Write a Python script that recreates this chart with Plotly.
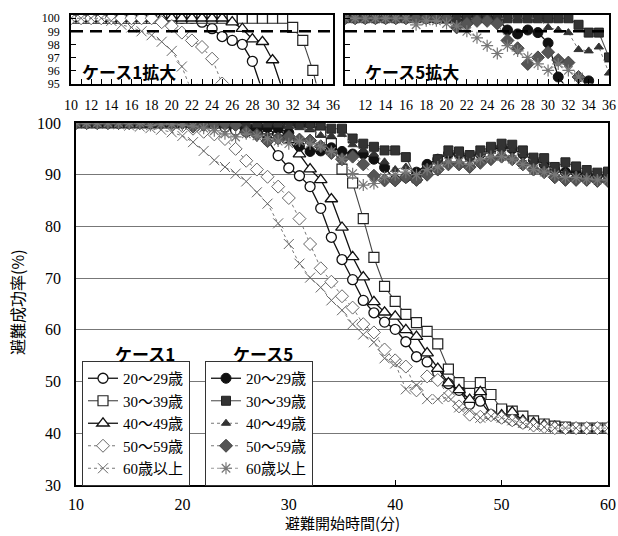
import plotly.graph_objects as go

W, H = 618, 536

minutes = list(range(10, 61))

# Case 1 (open markers)
c1_20 = [100, 100, 100, 100, 100, 100, 100, 100, 100, 100, 100, 100, 100,
         99.7, 99.2, 98.6, 98.3, 98.0, 96.7, 93.7, 91.3, 89.8, 87.7, 83.5, 77.9,
         73.6, 69.7, 65.7, 63.3, 61.5, 60.1, 57.7, 54.8, 53.8, 51.7, 49.6, 48.3,
         45.6, 46.2, 43.6, 43.0, 42.5, 42.0, 41.8, 41.5, 41.2, 41.0, 41.0, 41.0,
         41.0, 41.0]
c1_30 = [100, 100, 100, 100, 100, 100, 100, 100, 100, 100, 100, 100, 100,
         100, 100, 100, 100, 100, 100, 100, 100, 100,
         99.3, 98.3, 96.0, 91.1, 88.4, 81.5, 74.0, 68.4, 65.5, 63.0, 61.4, 59.7,
         57.3, 52.4, 49.8, 47.7, 49.8, 47.5, 44.7, 44.3, 43.3, 42.4, 41.8, 41.4,
         41.2, 41.0, 41.0, 41.0, 41.0]
c1_40 = [100, 100, 100, 100, 100, 100, 100, 100, 100, 100, 100, 100, 100,
         100, 100, 100,
         99.7, 99.2, 98.4, 98.2, 96.8, 94.0, 91.1, 89.0, 85.3, 79.8, 74.1, 70.2,
         65.4, 63.4, 62.6, 60.0, 58.7, 55.5, 52.5, 49.7, 48.4, 46.5, 48.0, 43.5,
         43.5, 44.1, 42.5, 42.0, 41.6, 41.3, 41.0, 41.0, 41.0, 41.0, 41.0]
c1_50 = [100, 100, 100, 100, 100, 100, 100, 100, 100,
         99.7, 99.4, 98.9, 98.3, 97.8, 96.9, 95.0, 92.7, 91.0, 89.6, 87.7, 85.5,
         81.5, 76.6, 71.9, 69.3, 66.5, 64.3, 61.1, 59.5, 56.2, 54.1, 52.9, 48.3,
         51.0, 50.3, 47.3, 45.2, 43.6, 43.2, 43.5, 43.0, 42.5, 42.0, 41.5, 41.2,
         41.0, 41.0, 41.0, 41.0, 41.0, 41.0]
c1_60 = [100, 100, 100, 100,
         99.8, 99.5, 99.3, 99.0, 98.7, 98.2, 97.5, 96.3, 94.6, 92.8, 91.5, 90.2,
         88.7, 86.6, 84.4, 80.6, 76.6, 72.8, 70.1, 68.2, 65.7, 63.8, 61.1, 59.1,
         57.6, 54.5, 53.5, 48.5, 49.3, 46.6, 46.6, 47.0, 45.0, 44.4, 43.0, 43.3,
         43.0, 42.5, 42.0, 41.5, 41.2, 41.0, 41.0, 41.0, 41.0, 41.0, 41.0]

# Case 5 (filled markers)
c5_20 = [100, 100, 100, 100, 100, 100, 100, 100, 100, 100, 100, 100, 100,
         100, 100, 100,
         99.1, 98.8, 99.1, 98.9, 98.1, 95.5, 94.5, 94.6, 95.2, 94.5, 94.0, 94.0,
         93.0, 91.4, 89.0, 89.5, 90.5, 92.0, 93.0, 94.0, 94.0, 93.5, 94.0, 94.8,
         95.3, 95.0, 94.0, 92.8, 92.0, 91.0, 90.5, 90.5, 90.0, 89.8, 89.8]
c5_30 = [100, 100, 100, 100, 100, 100, 100, 100, 100, 100, 100, 100, 100,
         100, 100, 100, 100, 100, 100, 100, 100, 100, 100,
         99.5, 98.9, 98.9, 97.0, 96.0, 95.4, 94.7, 94.7, 93.4, 89.3, 91.0, 93.0,
         94.7, 94.5, 93.8, 94.7, 95.4, 96.0, 95.8, 94.7, 93.3, 93.2, 91.5, 92.4,
         91.6, 90.9, 90.4, 90.6]
c5_40 = [100, 100, 100, 100, 100, 100, 100, 100, 100, 100, 100, 100, 100,
         100, 100, 100, 100, 100, 100, 100,
         99.3, 99.1, 98.9, 97.6, 97.5, 97.8, 95.8, 94.8, 94.0, 92.5, 91.0, 91.5,
         90.0, 91.5, 92.5, 94.0, 93.8, 93.0, 94.0, 94.5, 95.0, 94.8, 93.8, 92.5,
         92.0, 90.8, 90.5, 90.0, 89.6, 89.5, 89.3]
c5_50 = [100, 100, 100, 100, 100, 100, 100, 100, 100, 100, 100,
         99.3, 99.6, 99.8, 99.8, 99.6, 98.3, 97.7, 96.5, 97.0, 97.4, 96.8, 96.6,
         95.5, 94.2, 93.0, 93.5, 92.0, 89.8, 88.9, 88.9, 89.5, 89.0, 90.0, 91.0,
         92.0, 92.0, 91.5, 92.3, 93.0, 93.5, 93.0, 92.0, 91.0, 90.5, 89.5, 89.0,
         89.0, 89.0, 88.8, 88.8]
c5_60 = [100, 100, 100, 100, 100, 100, 100,
         99.5, 99.8, 99.8, 99.6, 99.4, 99.0, 98.5, 97.9, 97.3, 97.9, 97.5, 97.0,
         96.5, 96.0, 96.5, 96.0, 95.5, 94.5, 93.0, 90.2, 88.0, 88.3, 89.5, 90.0,
         90.5, 90.0, 91.0, 91.5, 92.5, 92.5, 92.0, 93.0, 93.5, 93.5, 93.0, 92.0,
         91.0, 90.5, 90.0, 89.5, 89.5, 89.2, 89.0, 89.0]

age_labels = ["20～29歳", "30～39歳", "40～49歳", "50～59歳", "60歳以上"]
case_headers = ["ケース1", "ケース5"]
inset_titles = ["ケース1拡大", "ケース5拡大"]
x_title = "避難開始時間(分)"
y_title = "避難成功率(%)"
main_yticks = [30, 40, 50, 60, 70, 80, 90, 100]
main_xticks = [10, 20, 30, 40, 50, 60]
inset_yticks = [95, 96, 97, 98, 99, 100]
inset_left_xticks = list(range(10, 37, 2))
inset_right_xticks = list(range(12, 37, 2))
threshold = 99

SERIF = "Liberation Serif, Noto Sans CJK JP, serif"
GOTH = "Noto Sans CJK JP, sans-serif"

case1 = [c1_20, c1_30, c1_40, c1_50, c1_60]
case5 = [c5_20, c5_30, c5_40, c5_50, c5_60]

style1 = [
    dict(line=dict(color="#111", width=1.3), marker=dict(symbol="circle", size=10, color="white", line=dict(color="#111", width=1.3))),
    dict(line=dict(color="#444", width=1.1), marker=dict(symbol="square", size=10, color="white", line=dict(color="#222", width=1.2))),
    dict(line=dict(color="#111", width=1.3), marker=dict(symbol="triangle-up", size=11, color="white", line=dict(color="#111", width=1.3))),
    dict(line=dict(color="#777", width=1, dash="dot"), marker=dict(symbol="diamond", size=10, color="white", line=dict(color="#666", width=1))),
    dict(line=dict(color="#777", width=1, dash="dot"), marker=dict(symbol="x-thin-open", size=10, color="#666", line=dict(color="#666", width=1))),
]
style5 = [
    dict(line=dict(color="#111", width=1.3), marker=dict(symbol="circle", size=10, color="#111", line=dict(color="#111", width=1))),
    dict(line=dict(color="#555", width=1.1), marker=dict(symbol="square", size=9, color="#333", line=dict(color="#222", width=1))),
    dict(line=dict(color="#777", width=1, dash="dot"), marker=dict(symbol="triangle-up", size=8, color="#333", line=dict(color="#333", width=1))),
    dict(line=dict(color="#777", width=1, dash="dot"), marker=dict(symbol="diamond", size=10, color="#555", line=dict(color="#444", width=1))),
    dict(line=dict(color="#999", width=1, dash="dot"), marker=dict(symbol="asterisk-open", size=10, color="#777", line=dict(color="#777", width=1.2))),
]

fig = go.Figure()

for vals, st, lab in zip(case1, style1, age_labels):
    fig.add_trace(go.Scatter(x=minutes, y=vals, mode="lines+markers", name=lab,
                             legend="legend", xaxis="x", yaxis="y", **st))
for vals, st, lab in zip(case5, style5, age_labels):
    fig.add_trace(go.Scatter(x=minutes, y=vals, mode="lines+markers", name=lab,
                             legend="legend2", xaxis="x", yaxis="y", **st))
for vals, st in zip(case1, style1):
    fig.add_trace(go.Scatter(x=minutes, y=vals, mode="lines+markers", showlegend=False,
                             xaxis="x2", yaxis="y2", **st))
for vals, st in zip(case5, style5):
    fig.add_trace(go.Scatter(x=minutes, y=vals, mode="lines+markers", showlegend=False,
                             xaxis="x3", yaxis="y3", **st))


def px_x(p):
    return p / W


def px_y(p):
    return 1 - p / H


main_dom_x = [px_x(76), px_x(608)]
main_dom_y = [px_y(485), px_y(123)]
in1_dom_x = [px_x(71), px_x(333)]
in2_dom_x = [px_x(345), px_x(609)]
in_dom_y = [px_y(83.5), px_y(15)]

axis_common = dict(showline=True, mirror=True, linecolor="black", linewidth=1.5,
                   ticks="inside", tickcolor="black", zeroline=False, automargin=False)

fig.update_layout(
    width=W, height=H,
    margin=dict(l=0, r=0, t=0, b=0, autoexpand=False),
    paper_bgcolor="white", plot_bgcolor="white",
    font=dict(family=SERIF, color="black"),
    xaxis=dict(domain=main_dom_x, range=[10, 60], tickvals=main_xticks,
               showgrid=False, ticklen=5, tickfont=dict(family=SERIF, size=16),
               ticklabelstandoff=4, anchor="y", **axis_common),
    yaxis=dict(domain=main_dom_y, range=[30, 100], tickvals=main_yticks,
               showgrid=True, gridcolor="#777", gridwidth=1, ticklen=0,
               tickfont=dict(family=SERIF, size=16), ticklabelstandoff=10,
               anchor="x", **axis_common),
    xaxis2=dict(domain=in1_dom_x, range=[10, 36], tickvals=inset_left_xticks,
                showgrid=False, ticklen=5, minor=dict(dtick=1, ticks="inside", ticklen=5, tickcolor="black"),
                tickfont=dict(family=SERIF, size=14), ticklabelstandoff=8,
                anchor="y2", **axis_common),
    yaxis2=dict(domain=in_dom_y, range=[95, 100.25], tickvals=inset_yticks,
                showgrid=False, ticklen=5, tickfont=dict(family=SERIF, size=12),
                ticklabelstandoff=7, anchor="x2", **axis_common),
    xaxis3=dict(domain=in2_dom_x, range=[10, 36], tickvals=inset_right_xticks,
                showgrid=False, ticklen=5, minor=dict(dtick=1, ticks="inside", ticklen=5, tickcolor="black"),
                tickfont=dict(family=SERIF, size=14), ticklabelstandoff=8,
                anchor="y3", **axis_common),
    yaxis3=dict(domain=in_dom_y, range=[95, 100.25], tickvals=inset_yticks,
                showticklabels=False, showgrid=False, ticklen=5,
                anchor="x3", **axis_common),
    legend=dict(x=px_x(82), y=px_y(361), xanchor="left", yanchor="top",
                bgcolor="white", bordercolor="#333", borderwidth=1,
                font=dict(family=SERIF, size=15), itemwidth=30,
                tracegroupgap=0, traceorder="normal"),
    legend2=dict(x=px_x(205), y=px_y(361), xanchor="left", yanchor="top",
                 bgcolor="white", bordercolor="#333", borderwidth=1,
                 font=dict(family=SERIF, size=15), itemwidth=30,
                 tracegroupgap=0, traceorder="normal"),
    showlegend=True,
)

# threshold dashed lines in insets
for xr, yr in [("x2", "y2"), ("x3", "y3")]:
    fig.add_shape(type="line", xref=xr, yref=yr, x0=10, x1=36, y0=threshold, y1=threshold,
                  line=dict(color="black", width=2.5, dash="12px,7px"))

annotations = [
    dict(text="<b>" + case_headers[0] + "</b>", x=px_x(145), y=px_y(353), xref="paper", yref="paper",
         showarrow=False, font=dict(family=GOTH, size=17, color="black"), xanchor="center", yanchor="middle"),
    dict(text="<b>" + case_headers[1] + "</b>", x=px_x(263), y=px_y(353), xref="paper", yref="paper",
         showarrow=False, font=dict(family=GOTH, size=17, color="black"), xanchor="center", yanchor="middle"),
    dict(text="<b>" + inset_titles[0] + "</b>", x=px_x(80), y=px_y(71), xref="paper", yref="paper",
         showarrow=False, font=dict(family=GOTH, size=17, color="black"), xanchor="left", yanchor="middle"),
    dict(text="<b>" + inset_titles[1] + "</b>", x=px_x(363), y=px_y(71), xref="paper", yref="paper",
         showarrow=False, font=dict(family=GOTH, size=17, color="black"), xanchor="left", yanchor="middle"),
    dict(text=x_title, x=px_x(342), y=px_y(535), xref="paper", yref="paper",
         showarrow=False, font=dict(family=GOTH, size=15, color="black"), xanchor="center", yanchor="bottom"),
    dict(text=y_title, x=px_x(17), y=px_y(302), xref="paper", yref="paper", textangle=-90,
         showarrow=False, font=dict(family=GOTH, size=16, color="black"), xanchor="center", yanchor="middle"),
]
fig.update_layout(annotations=annotations)

fig.write_html("out.html")
